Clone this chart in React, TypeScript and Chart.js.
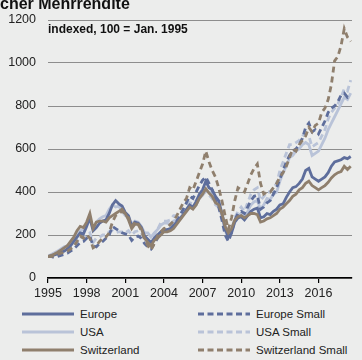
import React, { useEffect, useRef } from "react";
import { Chart, registerables } from "chart.js";
Chart.register(...registerables);

// Quarterly observations starting Jan. 1995
const START_YEAR = 1995;
const STEP_YEARS = 0.25;
const X_TICKS = [1995, 1998, 2001, 2004, 2007, 2010, 2013, 2016];
const Y_TICKS = [0, 200, 400, 600, 800, 1000, 1200];

const EUROPE = [
  100, 103, 108, 112, 120, 125, 135, 150, 170, 190, 210, 205,
  240, 280, 220, 235, 255, 265, 270, 300, 340, 360, 345, 335,
  305, 290, 240, 260, 255, 235, 195, 180, 165, 185, 200, 215,
  225, 225, 230, 245, 260, 275, 295, 320, 340, 330, 355, 390,
  410, 450, 420, 410, 380, 360, 300, 230, 190, 210, 260, 280,
  285, 270, 290, 310, 320, 325, 280, 285, 300, 295, 310, 320,
  340, 345, 375, 400, 420, 425, 440, 460, 500, 510, 470, 460,
  450, 460, 470, 490, 520, 540, 545, 550, 560, 555, 565,
];
const EUROPE_SMALL = [
  100, 100, 95, 100, 105, 110, 115, 125, 135, 150, 165, 170,
  185, 195, 150, 145, 160, 170, 185, 200, 240, 230, 220, 210,
  205, 200, 175, 190, 195, 185, 160, 145, 135, 160, 185, 210,
  220, 215, 225, 245, 265, 290, 320, 350, 380, 370, 400, 430,
  455, 470, 440, 410, 360, 330, 270, 200, 170, 210, 270, 300,
  310, 300, 330, 360, 380, 385, 320, 330, 350, 360, 390, 420,
  460, 500, 540, 570, 590, 600, 620, 650, 700, 720, 680, 690,
  670, 700, 730, 770, 790, 800, 820, 850, 860, 840, 850,
];
const USA = [
  100, 110, 118, 125, 135, 145, 150, 165, 180, 200, 220, 225,
  250, 270, 235, 260, 275, 285, 290, 320, 340, 330, 335, 310,
  290, 285, 250, 265, 260, 240, 210, 210, 190, 210, 225, 245,
  255, 255, 250, 265, 270, 280, 295, 310, 330, 325, 340, 370,
  385, 405, 400, 395, 360, 345, 300, 240, 200, 225, 270, 290,
  300, 285, 310, 340, 355, 360, 320, 340, 370, 365, 390, 400,
  450, 490, 520, 560, 570, 590, 600, 620, 630, 620, 570, 580,
  590, 620, 650, 690, 720, 750, 780, 810, 840, 830, 860,
];
const USA_SMALL = [
  100, 105, 110, 115, 125, 130, 130, 140, 150, 170, 190, 185,
  200, 210, 165, 185, 190, 200, 200, 215, 220, 210, 215, 215,
  210, 220, 200, 215, 220, 210, 180, 170, 165, 200, 225, 255,
  265, 265, 270, 290, 290, 300, 320, 330, 350, 345, 360, 380,
  395, 400, 385, 370, 340, 330, 290, 220, 185, 220, 280, 310,
  330, 310, 350, 390, 410, 420, 360, 380, 400, 400, 420, 440,
  500, 540, 580, 620, 620, 630, 640, 660, 670, 660, 610, 620,
  630, 660, 690, 740, 770, 790, 810, 840, 880, 870, 920,
];
const SWITZERLAND = [
  100, 105, 112, 120, 130, 140, 150, 170, 190, 220, 240, 235,
  260, 300, 230, 260, 265, 265, 260, 280, 290, 300, 310, 320,
  300, 270, 230, 250, 250, 230, 185, 165, 150, 175, 185, 200,
  215, 215, 220, 230, 250, 270, 290, 310, 330, 320, 340, 370,
  390, 415, 395, 380, 350, 340, 300, 240, 210, 230, 270, 285,
  290, 280, 290, 300, 300, 295, 260, 265, 275, 280, 290, 300,
  320, 330, 345, 360, 380, 390, 410, 420, 440, 450, 430, 420,
  410, 420, 430, 445, 465, 480, 490, 495, 520, 505, 520,
];
const SWITZERLAND_SMALL = [
  100, 100, 105, 110, 115, 120, 125, 135, 145, 170, 195, 185,
  200, 185, 140, 150, 170, 185, 190, 210, 260, 290, 300, 310,
  300, 280, 240, 260, 250, 220, 180, 150, 130, 160, 195, 215,
  230, 235, 250, 265, 290, 320, 350, 370, 420, 410, 450, 490,
  530, 590, 540, 500, 470, 420, 360, 290, 225, 280, 360, 420,
  410, 400, 440, 480, 510, 530, 440, 390, 400, 400, 420, 440,
  470, 490, 520, 560, 600, 590, 620, 640, 660, 700, 680, 710,
  720, 770, 790, 830, 900, 1010, 1030, 1080, 1160, 1120, 1100,
];

const TITLE = "cher Mehrrendite";
const NOTE = "indexed, 100 = Jan. 1995";

const C_EUROPE = "#5e6e9c";
const C_USA = "#b9c3d8";
const C_SWISS = "#8f7f6d";
const FONT = "'Liberation Sans', Arial, sans-serif";

const SERIES = [
  { label: "Switzerland Small", data: SWITZERLAND_SMALL, color: C_SWISS, dashed: true },
  { label: "Switzerland", data: SWITZERLAND, color: C_SWISS, dashed: false },
  { label: "Europe Small", data: EUROPE_SMALL, color: C_EUROPE, dashed: true },
  { label: "Europe", data: EUROPE, color: C_EUROPE, dashed: false },
  { label: "USA Small", data: USA_SMALL, color: C_USA, dashed: true },
  { label: "USA", data: USA, color: C_USA, dashed: false },
];

const LEGEND = [
  { label: "Europe", color: C_EUROPE, dashed: false, col: 0, row: 0 },
  { label: "Europe Small", color: C_EUROPE, dashed: true, col: 1, row: 0 },
  { label: "USA", color: C_USA, dashed: false, col: 0, row: 1 },
  { label: "USA Small", color: C_USA, dashed: true, col: 1, row: 1 },
  { label: "Switzerland", color: C_SWISS, dashed: false, col: 0, row: 2 },
  { label: "Switzerland Small", color: C_SWISS, dashed: true, col: 1, row: 2 },
];

export default function App() {
  const ref = useRef<HTMLCanvasElement>(null);

  useEffect(() => {
    if (!ref.current) return;
    const chart = new Chart(ref.current, {
      type: "line",
      data: {
        datasets: SERIES.map((s) => ({
          label: s.label,
          data: s.data.map((v, i) => ({ x: START_YEAR + i * STEP_YEARS, y: v })),
          borderColor: s.color,
          backgroundColor: s.color,
          borderWidth: 2.8,
          borderDash: s.dashed ? [6, 4] : [],
          pointRadius: 0,
          tension: 0,
          fill: false,
        })),
      },
      options: {
        animation: false,
        responsive: false,
        devicePixelRatio: 1,
        layout: { padding: { left: 0, right: 10, top: 20, bottom: 0 } },
        plugins: { legend: { display: false }, tooltip: { enabled: false }, title: { display: false } },
        scales: {
          x: {
            type: "linear",
            min: 1995,
            max: 2018.6,
            afterBuildTicks: (s: any) => {
              s.ticks = X_TICKS.map((v) => ({ value: v }));
            },
            afterFit: (s: any) => {
              s.height = 22;
            },
            ticks: {
              callback: (v: any) => String(v),
              font: { family: FONT, size: 12.5 },
              color: "#222",
              padding: 3,
              maxRotation: 0,
              autoSkip: false,
            },
            grid: { display: true, drawOnChartArea: false, drawTicks: true, tickLength: 5, color: "#000", lineWidth: 1.2 },
            border: { display: true, color: "#000", width: 1.5 },
          },
          y: {
            min: 0,
            max: 1200,
            afterBuildTicks: (s: any) => {
              s.ticks = Y_TICKS.map((v) => ({ value: v }));
            },
            afterFit: (s: any) => {
              s.width = 48;
            },
            ticks: {
              callback: (v: any) => String(v),
              font: { family: FONT, size: 12.5 },
              color: "#222",
              padding: 12,
            },
            grid: { color: "#8d8d8d", lineWidth: 1, drawTicks: false },
            border: { display: false },
          },
        },
      },
    });
    return () => chart.destroy();
  }, []);

  return (
    <div
      style={{
        position: "fixed",
        left: 0,
        top: 0,
        width: 362,
        height: 360,
        overflow: "hidden",
        background: "#ecedec",
        fontFamily: FONT,
      }}
    >
      <canvas ref={ref} width={362} height={300} style={{ position: "absolute", left: 0, top: 0, display: "block" }} />
      <div
        style={{
          position: "absolute",
          left: 0,
          top: -5,
          fontSize: 16,
          fontWeight: 900,
          color: "#111",
          whiteSpace: "nowrap",
          lineHeight: "18px",
        }}
      >
        {TITLE}
      </div>
      <div
        style={{
          position: "absolute",
          left: 48,
          top: 22,
          fontSize: 12,
          fontWeight: 700,
          color: "#111",
          whiteSpace: "nowrap",
          lineHeight: "14px",
        }}
      >
        {NOTE}
      </div>
      {LEGEND.map((l) => (
        <div
          key={l.label}
          style={{
            position: "absolute",
            left: l.col === 0 ? 22 : 198,
            top: 314 + l.row * 18 - 7,
            height: 14,
            display: "flex",
            alignItems: "center",
            whiteSpace: "nowrap",
          }}
        >
          <svg width={52} height={4} style={{ display: "block" }}>
            <line
              x1={0}
              y1={2}
              x2={52}
              y2={2}
              stroke={l.color}
              strokeWidth={3}
              strokeDasharray={l.dashed ? "6 3.5" : undefined}
            />
          </svg>
          <span style={{ marginLeft: 6, fontSize: 11.5, color: "#222", lineHeight: "14px" }}>{l.label}</span>
        </div>
      ))}
    </div>
  );
}
